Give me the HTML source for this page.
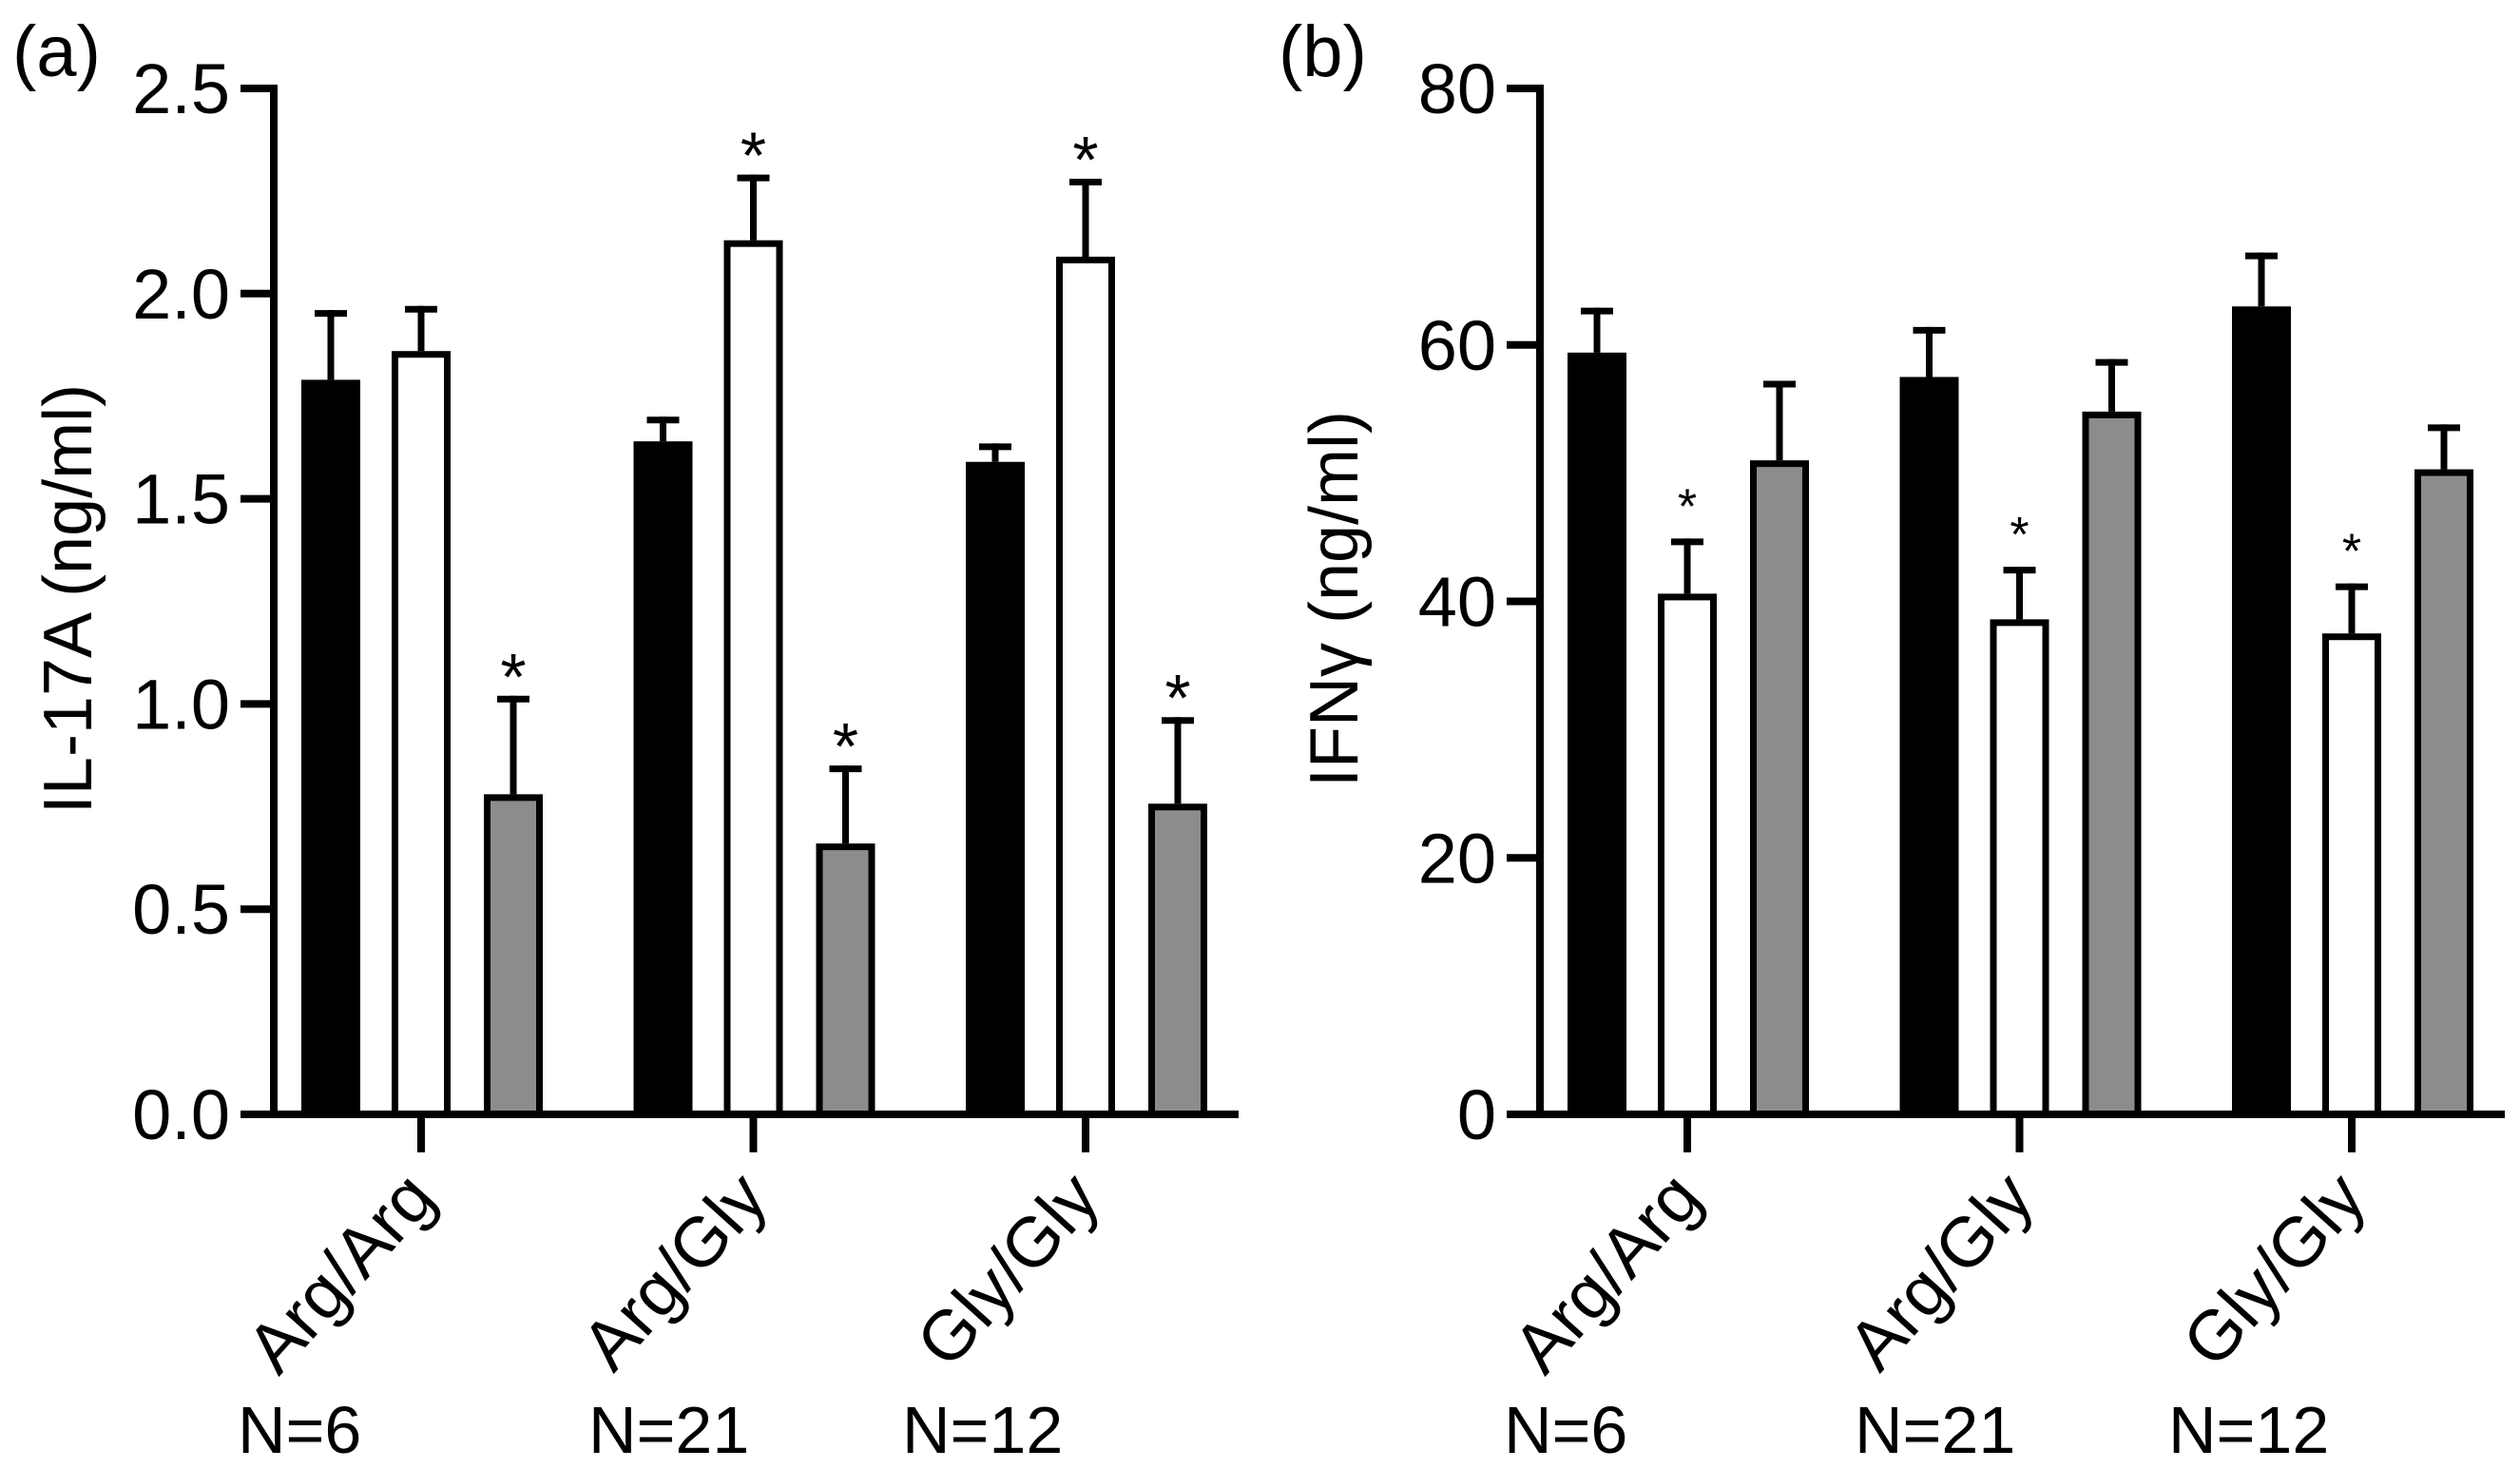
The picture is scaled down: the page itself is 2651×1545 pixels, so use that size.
<!DOCTYPE html>
<html><head><meta charset="utf-8"><style>
html,body{margin:0;padding:0;background:#fff}
svg{display:block}
text{font-family:"Liberation Sans",sans-serif;fill:#000}
</style></head><body>
<svg id="chart" width="2651" height="1545" viewBox="0 0 2651 1545" xmlns="http://www.w3.org/2000/svg"></svg>
<script>
const categories = ["Arg/Arg","Arg/Gly","Gly/Gly"];
const nLabels = ["N=6","N=21","N=12"];
// Panel (a) IL-17A
const il17Black = [1.79,1.64,1.59];
const il17BlackErr = [1.96,1.70,1.635];
const il17White = [1.86,2.13,2.09];
const il17WhiteErr = [1.97,2.29,2.28];
const il17Gray = [0.78,0.66,0.757];
const il17GrayErr = [1.02,0.85,0.968];
const il17Stars = [[false,false,true],[false,true,true],[false,true,true]];
const il17Ticks = [0,0.5,1.0,1.5,2.0,2.5];
const il17TickLabels = ["0.0","0.5","1.0","1.5","2.0","2.5"];
// Panel (b) IFNy
const ifnBlack = [59.4,57.5,63.0];
const ifnBlackErr = [62.9,61.4,67.2];
const ifnWhite = [40.6,38.6,37.5];
const ifnWhiteErr = [44.9,42.7,41.4];
const ifnGray = [51.0,54.8,50.3];
const ifnGrayErr = [57.2,58.9,53.8];
const ifnStars = [[false,true,false],[false,true,false],[false,true,false]];
const ifnTicks = [0,20,40,60,80];
const ifnTickLabels = ["0","20","40","60","80"];

const svg = document.getElementById('chart');
const NS = "http://www.w3.org/2000/svg";
function mk(tag, attrs, parent){
  const e = document.createElementNS(NS, tag);
  for (const k in attrs) e.setAttribute(k, attrs[k]);
  (parent||svg).appendChild(e);
  return e;
}

function panel(cfg){
  const g = mk('g', {});
  
  
  const ox = cfg.ox;
  const axisX = ox + 288, axisEnd = ox + 1303, y0 = 1172, yTop = 93;
  const yScale = v => y0 - (v / cfg.max) * (y0 - yTop);
  const groupX = i => ox + 443 + i * 349.5;
  const offs = [-95, 0, 97];
  const bw = 62, sw = 7;

  // panel letter
  const pl = mk('text', {x: ox + 13, y: 80, 'font-size': 76}, g);
  pl.textContent = cfg.letter;
  
  

  // y axis title
  const yt = mk('text', {x: ox + 96, y: 630, 'font-size': 72, 'text-anchor': 'middle', transform: `rotate(-90 ${ox + 96} 630)`}, g);
  yt.textContent = cfg.title;
  
  

  // bars
  const series = [cfg.black, cfg.white, cfg.gray];
  const errs = [cfg.blackErr, cfg.whiteErr, cfg.grayErr];
  const fills = ['#000', '#fff', '#8c8c8c'];
  const names = ['black', 'white', 'gray'];
  for (let i = 0; i < categories.length; i++) {
    for (let s = 0; s < 3; s++) {
      const cx = groupX(i) + offs[s];
      const top = yScale(series[s][i]);
      const et = yScale(errs[s][i]);
      const eb = mk('line', {x1: cx, x2: cx, y1: top, y2: et, stroke: '#000', 'stroke-width': 7}, g);
      
      
      const ec = mk('line', {x1: cx - 17, x2: cx + 17, y1: et + 3.5, y2: et + 3.5, stroke: '#000', 'stroke-width': 7}, g);
      
      
      const r = mk('rect', {x: cx - bw/2 + sw/2, y: top + sw/2, width: bw - sw, height: y0 - top - sw/2, fill: fills[s], stroke: '#000', 'stroke-width': sw}, g);
      
      
      if (cfg.stars[i][s]) {
        const st = mk('text', {x: cx, y: et + cfg.starDy, 'font-size': cfg.starSize, 'text-anchor': 'middle'}, g);
        st.textContent = '*';
        
        
      }
    }
    // x tick
    const xt = mk('line', {x1: groupX(i), x2: groupX(i), y1: y0, y2: y0 + 40, stroke: '#000', 'stroke-width': 8}, g);
    
    
    const lx = groupX(i) + 18, ly = 1262;
    const cl = mk('text', {x: lx, y: ly, 'font-size': 74, 'text-anchor': 'end', transform: `rotate(-48 ${lx} ${ly})`}, g);
    cl.textContent = categories[i];
    
    
    const nl = mk('text', {x: ox + [250, 619, 949][i], y: 1528, 'font-size': 70}, g);
    nl.textContent = nLabels[i];
    
    
  }

  // axes
  const ya = mk('line', {x1: axisX, x2: axisX, y1: yTop - 4, y2: y0 + 4, stroke: '#000', 'stroke-width': 8}, g);
  
  
  const xa = mk('line', {x1: axisX - 35, x2: axisEnd, y1: y0, y2: y0, stroke: '#000', 'stroke-width': 8}, g);
  
  
  cfg.ticks.forEach((t, k) => {
    const y = yScale(t);
    const tl = mk('line', {x1: axisX - 35, x2: axisX, y1: y, y2: y, stroke: '#000', 'stroke-width': 8}, g);
    
    
    const tx = mk('text', {x: axisX - 46, y: y + 26, 'font-size': 74, 'text-anchor': 'end'}, g);
    tx.textContent = cfg.tickLabels[k];
    
    
  });
}

panel({name: 'panel-a-il17a', ox: 0, letter: '(a)', title: 'IL-17A (ng/ml)', max: 2.5,
  black: il17Black, blackErr: il17BlackErr, white: il17White, whiteErr: il17WhiteErr,
  gray: il17Gray, grayErr: il17GrayErr, stars: il17Stars, ticks: il17Ticks, tickLabels: il17TickLabels,
  starSize: 70, starDy: 4});
panel({name: 'panel-b-ifng', ox: 1332, letter: '(b)', title: 'IFNγ (ng/ml)', max: 80,
  black: ifnBlack, blackErr: ifnBlackErr, white: ifnWhite, whiteErr: ifnWhiteErr,
  gray: ifnGray, grayErr: ifnGrayErr, stars: ifnStars, ticks: ifnTicks, tickLabels: ifnTickLabels,
  starSize: 52, starDy: -16});
</script>
</body></html>
